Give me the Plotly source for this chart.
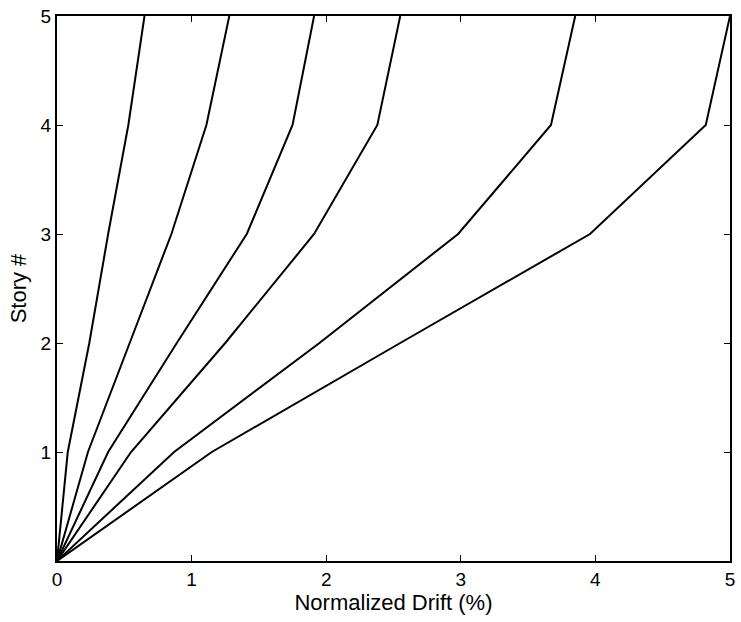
import plotly.graph_objects as go

# Story levels and normalized drift (%) for each profile
stories = [0, 1, 2, 3, 4, 5]
drift_1 = [0, 0.08, 0.24, 0.38, 0.53, 0.65]
drift_2 = [0, 0.23, 0.54, 0.85, 1.11, 1.28]
drift_3 = [0, 0.38, 0.89, 1.41, 1.75, 1.91]
drift_4 = [0, 0.55, 1.25, 1.91, 2.38, 2.55]
drift_5 = [0, 0.87, 1.95, 2.98, 3.67, 3.85]
drift_6 = [0, 1.15, 2.55, 3.96, 4.82, 5.00]

x_ticks = [0, 1, 2, 3, 4, 5]
y_ticks = [1, 2, 3, 4, 5]

fig = go.Figure()
for d in [drift_1, drift_2, drift_3, drift_4, drift_5, drift_6]:
    fig.add_trace(go.Scatter(x=d, y=stories, mode="lines",
                             line=dict(color="black", width=2),
                             showlegend=False, hoverinfo="skip"))

axis_common = dict(
    showgrid=False, zeroline=False, showline=True, linecolor="black",
    linewidth=2, mirror="allticks", ticks="inside", ticklen=6,
    tickwidth=1, tickcolor="black",
    tickfont=dict(family="Liberation Sans, Arial", size=19, color="black"),
)

fig.update_layout(
    width=741, height=622,
    margin=dict(l=57, r=6, t=15, b=61),
    paper_bgcolor="white", plot_bgcolor="white",
    xaxis=dict(range=[0, 5], tickvals=x_ticks,
               title=dict(text="Normalized Drift (%)",
                          font=dict(family="Liberation Sans, Arial", size=22, color="black"),
                          standoff=4),
               **axis_common),
    yaxis=dict(range=[0, 5], tickvals=y_ticks,
               title=dict(text="Story #",
                          font=dict(family="Liberation Sans, Arial", size=22, color="black"),
                          standoff=8),
               **axis_common),
)

fig.write_html("out.html")
